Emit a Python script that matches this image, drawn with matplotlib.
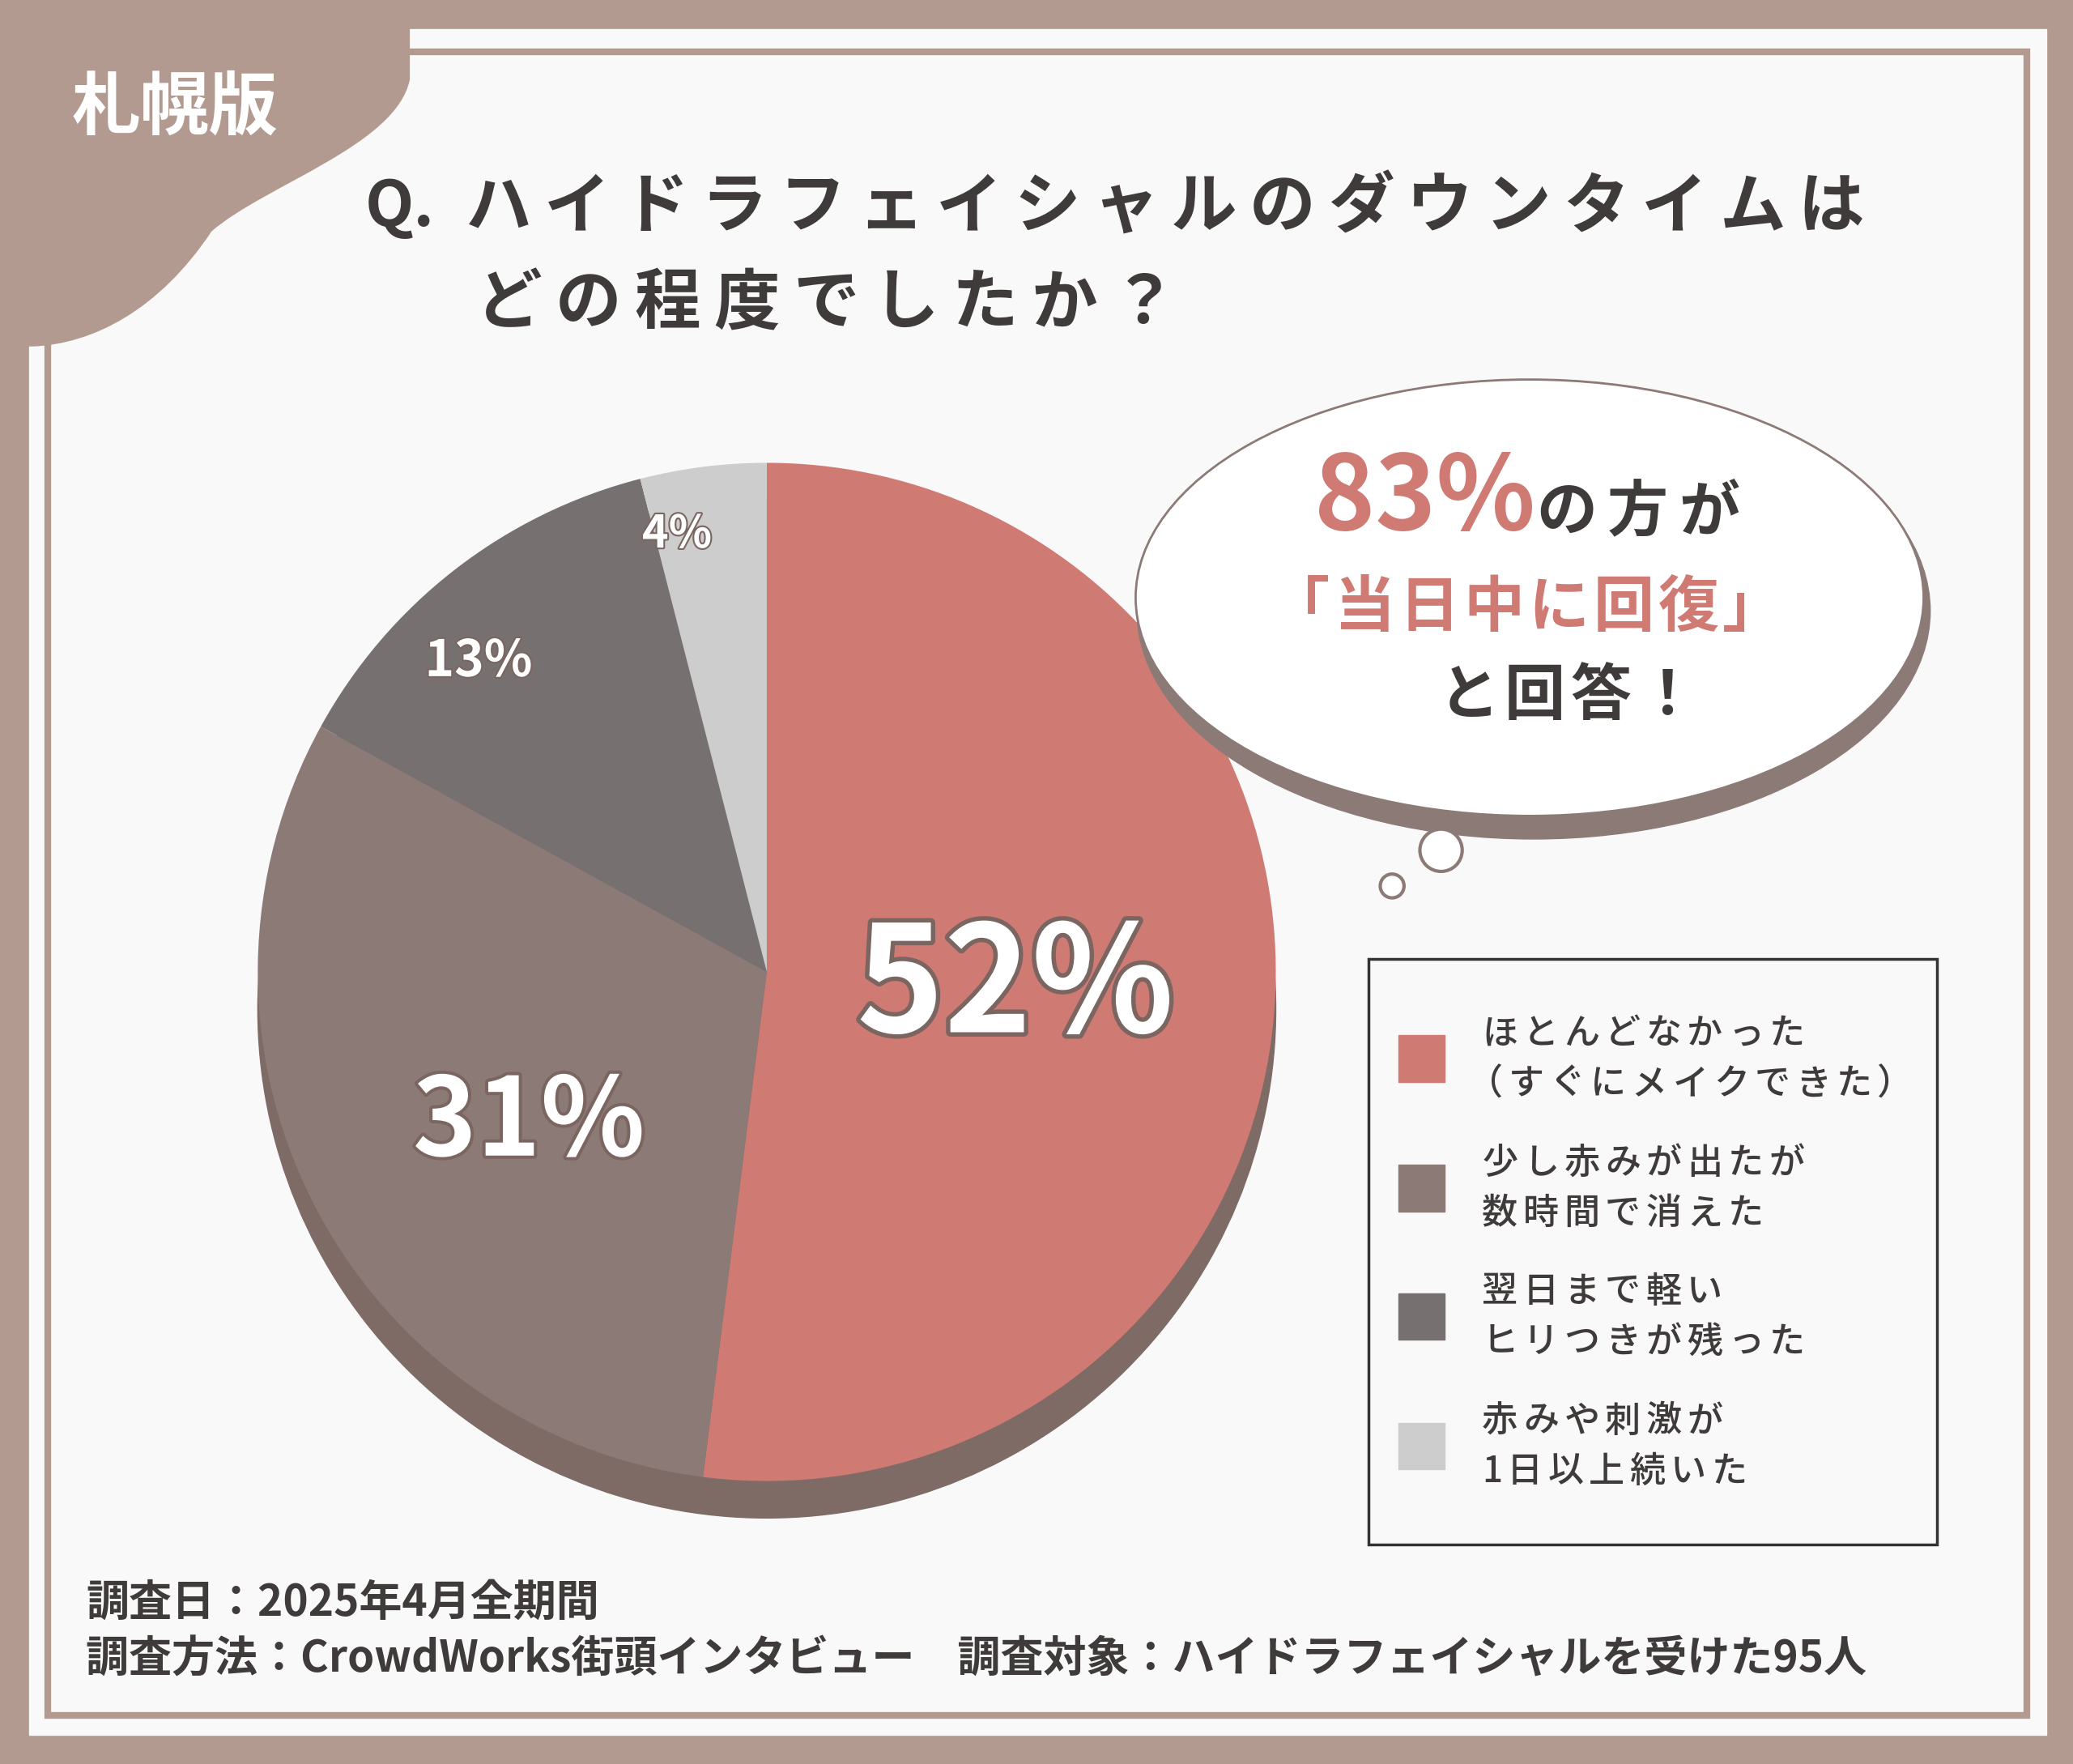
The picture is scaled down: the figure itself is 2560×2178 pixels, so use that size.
import matplotlib
matplotlib.use("Agg")
import matplotlib.pyplot as plt
from matplotlib.patches import Rectangle, Circle, Ellipse, PathPatch
from matplotlib.path import Path
import matplotlib.patheffects as pe

categories = ["ほとんどなかった\n（すぐにメイクできた）", "少し赤みが出たが\n数時間で消えた",
              "翌日まで軽い\nヒリつきが残った", "赤みや刺激が\n1日以上続いた"]
values = [52, 31, 13, 4]
labels = ["52%", "31%", "13%", "4%"]
colors = ["#d07a74", "#8c7a77", "#767170", "#cdcdcd"]

W, H = 1568, 1334
JP = "Noto Sans CJK JP"
def Y(y): return H - y
def pt(px): return px * 1.1755

fig = plt.figure(figsize=(25.6, 21.78), dpi=100)
ax = fig.add_axes([0, 0, 1, 1])
ax.set_xlim(0, W); ax.set_ylim(0, H); ax.axis("off")

BR = "#b39a91"; DARK = "#3f3b3b"
ax.add_patch(Rectangle((0, 0), W, H, color=BR, zorder=0))
ax.add_patch(Rectangle((22, Y(1312)), 1526, 1290, color="#faf9f9", zorder=0.1))
ax.add_patch(Rectangle((36, Y(1297)), 1497, 1258, fill=False, ec=BR, lw=6, zorder=0.2))
verts = [(0, Y(0)), (310, Y(0)), (310, Y(60)), (300, Y(110)), (200, Y(140)), (160, Y(175)),
         (120, Y(235)), (70, Y(260)), (25, Y(262)), (0, Y(262)), (0, Y(0))]
codes = [Path.MOVETO, Path.LINETO, Path.LINETO, Path.CURVE4, Path.CURVE4, Path.CURVE4,
         Path.CURVE4, Path.CURVE4, Path.CURVE4, Path.LINETO, Path.CLOSEPOLY]
ax.add_patch(PathPatch(Path(verts, codes), color=BR, lw=0, zorder=0.3))
ax.text(132, Y(82), "札幌版", fontfamily=JP, fontweight="bold", fontsize=pt(52),
        color="white", ha="center", va="center", zorder=5)

def spaced(x, y, s, size, adv, color, weight="bold", **kw):
    xx = x
    for ch in s:
        ax.text(xx, Y(y), ch, fontfamily=JP, fontweight=weight, fontsize=pt(size),
                color=color, ha="left", va="center", zorder=5, **kw)
        xx += adv * (0.6 if ch.isascii() else 1.0)

ax.text(276, Y(157), "Q.", fontfamily=JP, fontweight="bold", fontsize=pt(48), color=DARK,
        va="center", zorder=5)
spaced(352, 157, "ハイドラフェイシャルのダウンタイムは", 50, 59.3, DARK)
spaced(360, 230, "どの程度でしたか？", 50, 60, DARK)

cx, cy, r = 580, 735, 385
ax.add_patch(Circle((cx, Y(cy + 28)), r, color="#7e6b65", zorder=1))
ax.pie(values, colors=colors, startangle=90, counterclock=False, center=(cx, Y(cy)),
       radius=r, frame=True, wedgeprops=dict(lw=0, zorder=2))
ax.set_xlim(0, W); ax.set_ylim(0, H); ax.axis("off")

lab_pos = [(768, 748, 112), (400, 850, 82), (362, 500, 38), (512, 404, 34)]
for lab, (x, y, s) in zip(labels, lab_pos):
    ax.text(x, Y(y), lab, fontfamily=JP, fontweight="bold", fontsize=pt(s), color="white",
            ha="center", va="center", zorder=6,
            path_effects=[pe.withStroke(linewidth=max(3, s * 0.07), foreground="#7a6561")])

ax.add_patch(Ellipse((1160, Y(462)), 600, 345, color="#8c7a77", zorder=3))
ax.add_patch(Ellipse((1157, Y(452)), 596, 330, color="white", ec="#8c7a77", lw=2, zorder=3.1))
ax.add_patch(Circle((1090, Y(643)), 16, fc="white", ec="#8c7a77", lw=3, zorder=3))
ax.add_patch(Circle((1053, Y(670)), 9, fc="white", ec="#8c7a77", lw=3, zorder=3))
RED = "#d07a74"
ax.text(1078, Y(378), "83%", fontfamily=JP, fontweight="bold", fontsize=pt(78), color=RED,
        ha="center", va="center", zorder=5)
spaced(1162, 388, "の方が", 46, 54, DARK)
spaced(960, 460, "「当日中に回復」", 46, 49, RED)
spaced(1088, 527, "と回答！", 46, 50, DARK)

ax.add_patch(Rectangle((1035, Y(1168)), 430, 443, fill=False, ec="#333333", lw=2.5, zorder=4))
leg_y = [800, 898, 995, 1093]
for c, lab, y in zip(colors, categories, leg_y):
    ax.add_patch(Rectangle((1058, Y(y + 18)), 35, 35, color=c, zorder=5))
    l1, l2 = lab.split("\n")
    spaced(1121, y - 18, l1, 27, 31, DARK, weight="medium")
    spaced(1121 if not l2.startswith("（") else 1110, y + 20, l2, 27, 31, DARK, weight="medium")

ax.text(65, Y(1212), "調査日：2025年4月全期間", fontfamily=JP, fontweight="bold",
        fontsize=pt(32.5), color=DARK, va="center", zorder=5)
ax.text(65, Y(1255), "調査方法：CrowdWorks街頭インタビュー　調査対象：ハイドラフェイシャルを受けた95人",
        fontfamily=JP, fontweight="bold", fontsize=pt(32.5), color=DARK, va="center", zorder=5)

fig.savefig("out.png", dpi=100)
